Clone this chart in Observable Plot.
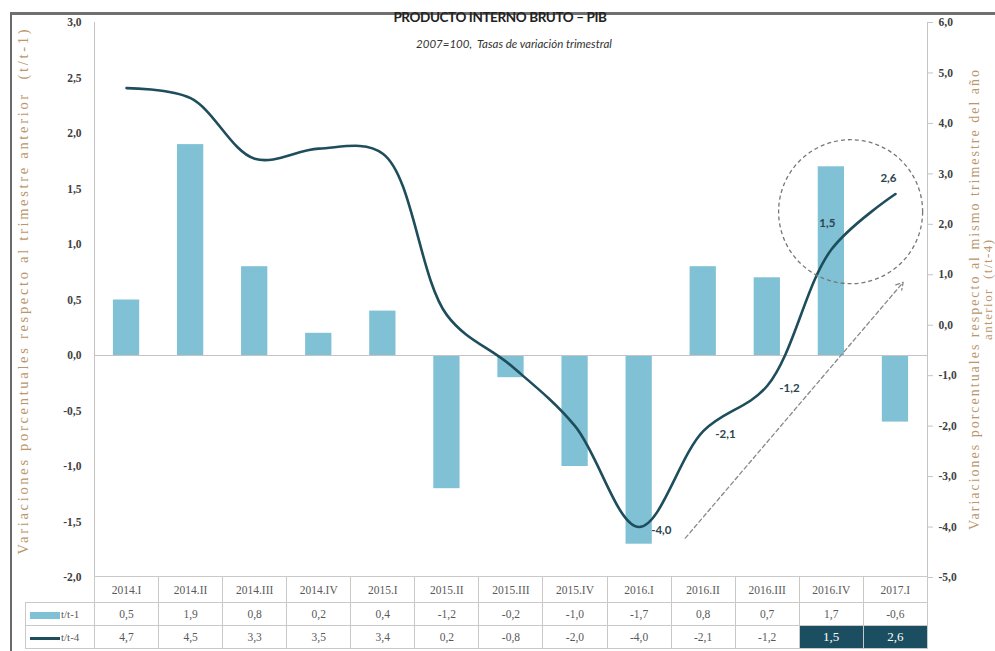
<!DOCTYPE html>
<html>
<head>
<meta charset="utf-8">
<script src="https://cdn.jsdelivr.net/npm/d3@7"></script>
<script src="https://cdn.jsdelivr.net/npm/@observablehq/plot@0.6"></script>
<style>
  html, body { margin: 0; padding: 0; background: #fff; }
  #wrap { position: relative; width: 995px; height: 651px; overflow: hidden; background: #fff; }
  #frame { position: absolute; left: 10px; top: 12px; width: 1000px; height: 700px;
           border-left: 2px solid #6a6a6a; border-top: 3px solid #707070; box-sizing: border-box; }
  #chart { position: absolute; left: 0; top: 0; }
  #title { position: absolute; left: 0; width: 1000px; top: 9px; text-align: center;
           font-family: Lato, sans-serif; font-weight: 700; font-size: 13.5px; letter-spacing: -0.4px; color: #222; }
  #subtitle { position: absolute; left: 14px; width: 1000px; top: 37px; text-align: center;
           font-family: Lato, sans-serif; font-style: italic; font-size: 11.5px; color: #333; }
  #tbl { position: absolute; left: 25px; top: 576px; border-collapse: collapse; table-layout: fixed;
         font-family: "Liberation Serif", serif; font-size: 11.5px; color: #595959; }
  #tbl td { border: 1px solid #c9c9c9; text-align: center; padding: 0; white-space: nowrap; }
  #tbl tr.h td { height: 25px; }
  #tbl tr.r td { height: 22px; }
  #tbl td.blank { border-left: none; border-top: none; }
  #tbl td.leg { text-align: left; padding-left: 4px; font-size: 11px; }
  #tbl td.hl { background: #1b4e60; color: #fff; font-size: 13px; }
  .sw1 { display: inline-block; width: 30px; height: 7px; background: #80c1d6; vertical-align: middle; margin-right: 1px; }
  .sw2 { display: inline-block; width: 30px; height: 3px; background: #1e4d5b; vertical-align: middle; margin-right: 1px; }
</style>
</head>
<body>
<div id="wrap">
  <div id="chart"></div>
  <div id="frame"></div>
  <div id="title">PRODUCTO INTERNO BRUTO – PIB</div>
  <div id="subtitle">2007=100,&nbsp; Tasas de variación trimestral</div>
  <table id="tbl"></table>
</div>
<script>
// ---- data ----
const quarters = ["2014.I","2014.II","2014.III","2014.IV","2015.I","2015.II","2015.III","2015.IV","2016.I","2016.II","2016.III","2016.IV","2017.I"];
const tt1 = [0.5, 1.9, 0.8, 0.2, 0.4, -1.2, -0.2, -1.0, -1.7, 0.8, 0.7, 1.7, -0.6];
const tt4 = [4.7, 4.5, 3.3, 3.5, 3.4, 0.2, -0.8, -2.0, -4.0, -2.1, -1.2, 1.5, 2.6];
const leftTicks = [-2, -1.5, -1, -0.5, 0, 0.5, 1, 1.5, 2, 2.5, 3];
const rightTicks = [-5, -4, -3, -2, -1, 0, 1, 2, 3, 4, 5, 6];
const labelsRight = ["2016.I", "2016.II", "2016.III"];
const labelsAboveA = ["2016.IV"];
const labelsAboveB = ["2017.I"];
const highlightT4 = ["2016.IV", "2017.I"];
const seriesNames = ["t/t-1", "t/t-4"];
const leftTitle = "Variaciones porcentuales respecto al trimestre anterior  (t/t-1)";
const rightTitle1 = "Variaciones porcentuales respecto al mismo trimestre del año";
const rightTitle2 = "anterior  (t/t-4)";
// annotations (x in quarter index units, y in right-axis units)
const circleNote = [{x: 11.3, y: 2.25}];
const arrowNote = [{x1: 8.72, y1: -4.22, x2: 12.12, y2: 0.85}];

// ---- helpers ----
const leftDom = [-2, 3], rightDom = [-5, 6];
const toLeft = v => leftDom[0] + (v - rightDom[0]) * (leftDom[1] - leftDom[0]) / (rightDom[1] - rightDom[0]);
const fromLeft = v => rightDom[0] + (v - leftDom[0]) * (rightDom[1] - rightDom[0]) / (leftDom[1] - leftDom[0]);
const fmt = v => ((Math.round(v * 10) / 10) + 0).toFixed(1).replace(".", ",");

const rows = quarters.map((q, i) => ({q, i, t1: tt1[i], t4: tt4[i]}));
const ser = (list) => rows.filter(d => list.includes(d.q));

const labelFont = {fontFamily: "Lato, sans-serif", fontSize: 11.5, fontWeight: 700, fill: "#2a4550"};

const plot = Plot.plot({
  width: 995, height: 590,
  marginTop: 22, marginBottom: 13, marginLeft: 94, marginRight: 68,
  style: {fontFamily: "'Liberation Serif', serif", fontSize: "11.5px", background: "transparent", overflow: "visible"},
  x: {type: "linear", domain: [-0.5, quarters.length - 0.5], axis: null, label: null},
  y: {domain: leftDom, axis: null, label: null},
  marks: [
    Plot.ruleX([-0.5, quarters.length - 0.5], {stroke: "#c4c4c4", strokeWidth: 1}),
    Plot.rectY(rows, {x1: d => d.i - 0.205, x2: d => d.i + 0.205, y1: 0, y2: "t1", fill: "#80c1d6"}),
    Plot.ruleY([0], {stroke: "#c4c4c4", strokeWidth: 1.2}),
    Plot.axisY(leftTicks, {anchor: "left", label: null, tickSize: 0, tickPadding: 13, tickFormat: fmt,
      fontWeight: "bold", fill: "#404040", fontSize: 11.5}),
    Plot.axisY(rightTicks.map(toLeft), {anchor: "right", label: null, tickSize: 5, tickPadding: 6,
      tickFormat: d => fmt(fromLeft(d)), stroke: "#c4c4c4", fontWeight: "bold", fill: "#404040", fontSize: 11.5}),
    Plot.line(rows, {x: "i", y: d => toLeft(d.t4), curve: "catmull-rom", stroke: "#1e4d5b", strokeWidth: 2.6}),
    Plot.dot(circleNote, {x: "x", y: d => toLeft(d.y), r: 72, stroke: "#777", strokeWidth: 1.3, strokeDasharray: "4,3", fill: "none"}),
    Plot.arrow(arrowNote, {x1: "x1", y1: d => toLeft(d.y1), x2: "x2", y2: d => toLeft(d.y2),
      stroke: "#888", strokeWidth: 1.3, strokeDasharray: "4,3", headLength: 9}),
    Plot.text(ser(labelsRight), {x: "i", y: d => toLeft(d.t4), text: d => fmt(d.t4), textAnchor: "start", dx: 12, dy: 3, ...labelFont}),
    Plot.text(ser(labelsAboveA), {x: "i", y: d => toLeft(d.t4), text: d => fmt(d.t4), dx: -4, dy: -26, ...labelFont}),
    Plot.text(ser(labelsAboveB), {x: "i", y: d => toLeft(d.t4), text: d => fmt(d.t4), dx: -7, dy: -16, ...labelFont})
  ]
});
document.getElementById("chart").appendChild(plot);

// axis titles
const svg = d3.select(plot);
const addTitle = (txt, x, cy, len, size) => svg.append("text")
  .attr("transform", `translate(${x},${cy}) rotate(-90)`)
  .attr("text-anchor", "middle")
  .attr("textLength", len).attr("lengthAdjust", "spacing")
  .attr("font-family", "'Liberation Serif', serif").attr("font-size", size)
  .attr("fill", "#b9966c").text(txt);
addTitle(leftTitle, 28, 292, 525, 14.5);
addTitle(rightTitle1, 979, 300, 460, 14);
addTitle(rightTitle2, 992, 290, 100, 13);

// data table
const tbl = d3.select("#tbl");
const cg = tbl.append("colgroup");
cg.append("col").style("width", "69px");
quarters.forEach(() => cg.append("col").style("width", (833 / quarters.length) + "px"));
const hr = tbl.append("tr").attr("class", "h");
hr.append("td").attr("class", "blank");
quarters.forEach(q => hr.append("td").text(q));
const r1 = tbl.append("tr").attr("class", "r");
r1.append("td").attr("class", "leg").html(`<span class="sw1"></span>${seriesNames[0]}`);
tt1.forEach(v => r1.append("td").text(fmt(v)));
const r2 = tbl.append("tr").attr("class", "r");
r2.append("td").attr("class", "leg").html(`<span class="sw2"></span>${seriesNames[1]}`);
tt4.forEach((v, i) => r2.append("td").attr("class", highlightT4.includes(quarters[i]) ? "hl" : null).text(fmt(v)));
</script>
</body>
</html>
